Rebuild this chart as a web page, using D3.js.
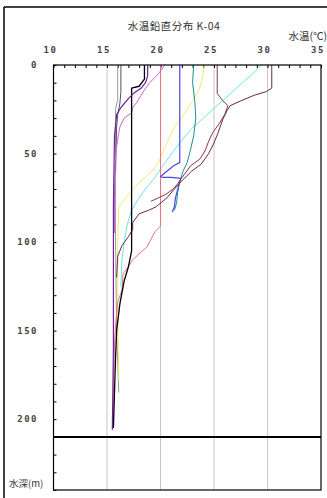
<!DOCTYPE html>
<html><head><meta charset="utf-8">
<script src="https://cdn.jsdelivr.net/npm/d3@7"></script>
<style>
html,body{margin:0;padding:0;background:#fff;}
svg{display:block;}
</style></head>
<body>
<svg id="chart" width="327" height="498"></svg>
<script>
// ---- data (temperature °C, depth m) ----
const title = "水温鉛直分布 K-04";
const xTickLabels = [10, 15, 20, 25, 30, 35];
const yTickLabels = [0, 50, 100, 150, 200];
const xDomain = [10, 35];
const yDomain = [0, 240];
const bottomDepth = 210;

const grey   = [[16.0,0],[16.0,20],[15.9,22],[15.8,25],[15.8,100],[15.9,150],[16.1,185]];
const dark   = [[16.3,0],[16.3,15],[16.2,22],[16.0,28],[15.9,35],[15.8,60]];
const purple = [[18.8,0],[18.8,6],[18.6,10],[18.2,13],[17.5,16],[17.0,19],[16.3,24],[15.9,28],[15.7,40],[15.6,80],[15.6,120],[15.6,160],[15.5,206]];
const black  = [[18.5,0],[18.5,8],[18.0,12],[17.3,13],[17.3,60],[17.3,105],[17.0,114],[16.6,122],[16.2,135],[15.9,150],[15.8,165],[15.7,185],[15.6,205]];
const magenta= [[20.4,0],[19.8,5],[19.0,10],[18.5,14],[18.2,17],[17.8,21],[17.4,24],[17.3,27],[16.6,30],[16.2,35],[16.0,42],[15.8,50],[15.7,70],[15.7,95]];
const red    = [[20.0,0],[20.0,91],[19.5,94],[18.7,103],[18.3,105],[17.4,110],[17.2,112],[16.5,118],[16.4,127],[16.0,134],[15.8,147],[15.7,158],[15.6,180],[15.6,205]];
const blue   = [[21.8,0],[21.8,30],[21.8,55],[21.2,57],[20.6,60],[20.0,63],[20.2,63.5],[21.0,63.5],[21.9,64],[21.7,68],[21.4,75],[21.3,80],[21.1,83]];
const teal   = [[23.1,0],[23.0,10],[23.2,20],[23.3,30],[23.1,40],[22.8,48],[22.5,55],[22.1,60],[21.8,66],[21.6,72],[21.5,78],[21.3,82]];
const yellow = [[24.1,0],[23.9,8],[23.6,14],[23.0,20],[22.2,28],[21.3,35],[20.9,40],[20.3,48],[19.8,55],[19.2,60],[18.1,66],[16.9,74],[16.1,80],[16.0,100],[16.0,140],[16.1,178]];
const cyan   = [[29.4,0],[28.6,5],[27.3,12],[26.2,18],[25.1,24],[24.0,30],[22.9,36],[21.8,44],[20.8,52],[20.1,58],[19.4,64],[18.6,70],[17.9,76],[17.3,82],[16.9,90],[16.6,100],[16.4,110],[16.3,125]];
const maroon = [[30.4,0],[30.4,13],[29.9,15],[28.8,17],[27.6,20],[26.5,23],[26.2,26],[25.8,31],[25.4,38],[25.0,44],[24.5,50],[23.8,56],[22.9,60],[21.9,66],[21.3,70],[20.6,75],[19.6,80],[18.9,82],[18.0,84],[17.4,89],[17.4,93],[17.0,97],[16.4,102],[16.0,108],[15.9,120]];
const brown  = [[25.3,0],[25.3,16],[25.8,20],[26.3,23],[26.0,28],[25.5,33],[24.9,38],[24.5,43],[24.2,48],[23.7,53],[22.8,57],[22.2,62],[21.6,67],[21.2,70],[20.5,73],[19.8,75],[19.1,77]];

const seriesList = [
  {data: grey, color: "#9a9a9a", w: 1},
  {data: dark, color: "#505050", w: 1},
  {data: yellow, color: "#eeee70", w: 1},
  {data: cyan, color: "#70e4e4", w: 1},
  {data: red, color: "#f07080", w: 1},
  {data: magenta, color: "#d060d8", w: 1},
  {data: teal, color: "#1a9090", w: 1},
  {data: blue, color: "#4848e0", w: 1.2},
  {data: brown, color: "#8a3a3a", w: 1},
  {data: maroon, color: "#6a2850", w: 1},
  {data: black, color: "#000000", w: 1.3},
  {data: purple, color: "#7020a0", w: 1.2}
];

// ---- layout ----
const svg = d3.select("#chart");
const L = 53.5, R = 321, T = 65, B = 490;
const x = d3.scaleLinear().domain(xDomain).range([L, R]);
const y = d3.scaleLinear().domain(yDomain).range([T, B]);

// outer frame
svg.append("line").attr("x1",4).attr("x2",327).attr("y1",7).attr("y2",7).attr("stroke","#000").attr("stroke-width",1.5);
svg.append("line").attr("x1",4).attr("x2",4).attr("y1",7).attr("y2",498).attr("stroke","#000").attr("stroke-width",1.5);

// grid
svg.append("g").selectAll("line").data(xTickLabels.filter(v => v > xDomain[0] && v < xDomain[1]))
  .join("line")
  .attr("x1", d => x(d)).attr("x2", d => x(d)).attr("y1", T).attr("y2", B)
  .attr("stroke", "#c8c8c8").attr("stroke-width", 1);

// axes ticks (inward)
const topAxis = d3.axisBottom(x).ticks(25).tickSize(3).tickFormat("");
svg.append("g").attr("transform", `translate(0,${T})`).call(topAxis)
  .call(g => g.select(".domain").remove())
  .selectAll("line").attr("stroke", "#000");
const leftAxis = d3.axisRight(y).tickValues(d3.range(0, 241, 10)).tickSize(3).tickFormat("");
svg.append("g").attr("transform", `translate(${L},0)`).call(leftAxis)
  .call(g => g.select(".domain").remove())
  .selectAll("line").attr("stroke", "#000");

// lines
const line = d3.line().x(d => x(d[0])).y(d => y(d[1]));
svg.append("g").selectAll("path").data(seriesList).join("path")
  .attr("d", d => line(d.data))
  .attr("fill", "none")
  .attr("stroke", d => d.color)
  .attr("stroke-width", d => d.w)
  .attr("stroke-linejoin", "round");

// plot border
svg.append("rect").attr("x", L).attr("y", T).attr("width", R - L).attr("height", B - T)
  .attr("fill", "none").attr("stroke", "#000").attr("stroke-width", 1.2);
svg.append("line").attr("x1", L).attr("x2", R).attr("y1", y(bottomDepth)).attr("y2", y(bottomDepth))
  .attr("stroke", "#000").attr("stroke-width", 2);

// labels
const numFont = "'DejaVu Sans Mono', monospace";
svg.append("g").selectAll("text").data(xTickLabels).join("text")
  .attr("x", d => x(d) - 3).attr("y", 53)
  .attr("text-anchor", "middle")
  .attr("font-family", numFont).attr("font-size", 9).attr("font-weight", "bold").attr("letter-spacing", 1.5)
  .attr("fill", "#444").text(d => d);
svg.append("g").selectAll("text").data(yTickLabels).join("text")
  .attr("x", 38).attr("y", d => y(d) + 3)
  .attr("text-anchor", "end")
  .attr("font-family", numFont).attr("font-size", 9).attr("font-weight", "bold").attr("letter-spacing", 1.5)
  .attr("fill", "#444").text(d => d);

const cjk = "'Noto Sans CJK JP', sans-serif";
svg.append("text").attr("x", 174).attr("y", 30).attr("text-anchor", "middle")
  .attr("font-family", cjk).attr("font-size", 10.5).attr("letter-spacing", 0.5).attr("fill", "#333").text(title);
svg.append("text").attr("x", 327).attr("y", 40).attr("text-anchor", "end")
  .attr("font-family", cjk).attr("font-size", 10.5).attr("fill", "#333").text("水温(℃)");
svg.append("text").attr("x", 9).attr("y", 487).attr("text-anchor", "start")
  .attr("font-family", cjk).attr("font-size", 9.5).attr("fill", "#333").text("水深(m)");
</script>
</body></html>
